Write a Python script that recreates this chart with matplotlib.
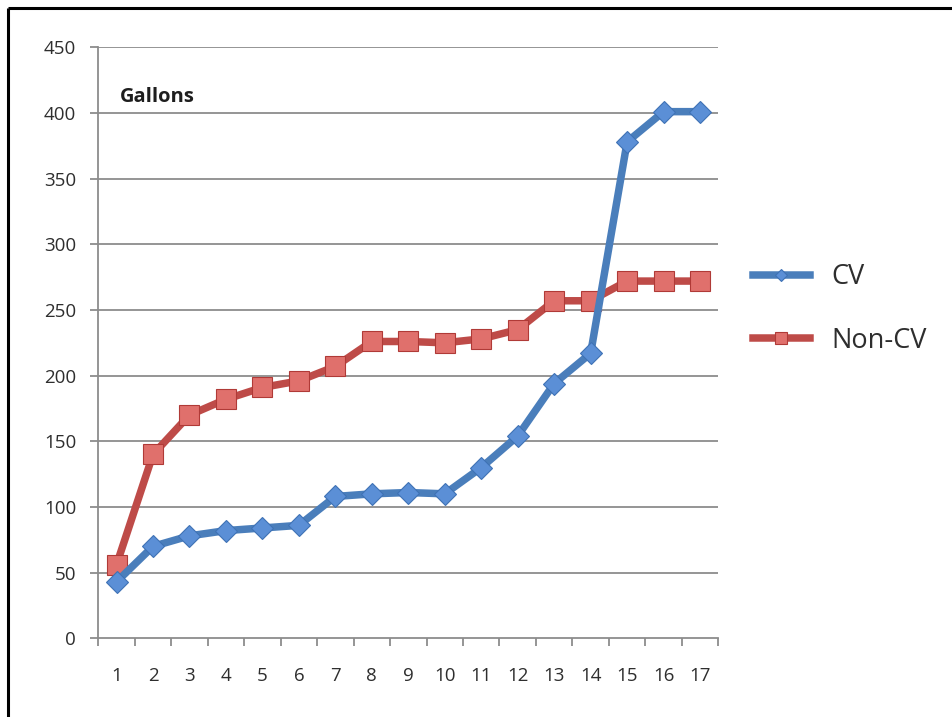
import matplotlib
matplotlib.use("Agg")
import matplotlib.pyplot as plt
from matplotlib.lines import Line2D

plt.rcParams['font.family'] = ['Open Sans', 'DejaVu Sans']

categories = [str(i) for i in range(1, 18)]
cv = [43, 70, 78, 82, 84, 86, 108, 110, 111, 110, 130, 154, 194, 217, 378, 401, 401]
non_cv = [56, 140, 170, 182, 191, 196, 207, 226, 226, 225, 228, 235, 257, 257, 272, 272, 272]
y_ticks = [0, 50, 100, 150, 200, 250, 300, 350, 400, 450]

W, H = 953, 717
fig = plt.figure(figsize=(W / 100, H / 100), dpi=100)
fig.patch.set_facecolor('white')

# outer frame (top and left visible in reference)
fig.add_artist(Line2D([8.5 / W, 1.0], [1 - 7.5 / H, 1 - 7.5 / H], transform=fig.transFigure,
                      color='black', lw=2.2, solid_capstyle='butt'))
fig.add_artist(Line2D([8.5 / W, 8.5 / W], [0.0, 1 - 7.5 / H], transform=fig.transFigure,
                      color='black', lw=2.2, solid_capstyle='butt'))

ax_l, ax_r, ax_t, ax_b = 98.3, 718.3, 47.3, 638.3
ax = fig.add_axes([ax_l / W, 1 - ax_b / H, (ax_r - ax_l) / W, (ax_b - ax_t) / H])

x = list(range(1, len(categories) + 1))

grid_c = '#8c8c8c'
for yv in y_ticks[1:]:
    ax.axhline(yv, color=grid_c, lw=1.3, zorder=1)

blue_line = '#4A7EBB'
blue_face = '#5B8FD6'
blue_edge = '#3F72B5'
red_line = '#BE4B48'
red_face = '#E0706C'
red_edge = '#B03A37'

ax.plot(x, cv, color=blue_line, lw=5.4, marker='D', markersize=11,
        markerfacecolor=blue_face, markeredgecolor=blue_edge, markeredgewidth=0.8,
        zorder=4, label='CV', solid_joinstyle='round')
ax.plot(x, non_cv, color=red_line, lw=5.4, marker='s', markersize=15,
        markerfacecolor=red_face, markeredgecolor=red_edge, markeredgewidth=0.8,
        zorder=3, label='Non-CV', solid_joinstyle='round')

ax.set_xlim(0.5, len(categories) + 0.5)
ax.set_ylim(0, 450)

ax.set_yticks(y_ticks)
ax.set_yticklabels([str(v) for v in y_ticks])
ax.set_xticks(x)
ax.set_xticklabels(categories)
ax.set_xticks([i + 0.5 for i in range(0, len(categories) + 1)], minor=True)

ax.tick_params(axis='x', which='major', length=0, pad=21, labelsize=13.5, colors='#2e2e2e')
ax.tick_params(axis='x', which='minor', length=6, width=1.3, color=grid_c, direction='out')
ax.tick_params(axis='y', which='major', length=6, width=1.3, color=grid_c, pad=10,
               labelsize=13.5, labelcolor='#2e2e2e', direction='out')

for s in ['top', 'right']:
    ax.spines[s].set_visible(False)
for s in ['left', 'bottom']:
    ax.spines[s].set_color(grid_c)
    ax.spines[s].set_linewidth(1.3)

ax.text((120 - ax_l) / (ax_r - ax_l), (ax_b - 97) / (ax_b - ax_t), 'Gallons',
        transform=ax.transAxes, fontsize=14.5, fontweight='bold', color='#1e1e1e',
        ha='left', va='center')

leg = fig.legend(loc='center left', bbox_to_anchor=(753 / W, 1 - 309 / H),
                 frameon=False, fontsize=19.5, handlelength=2.1, handletextpad=0.8,
                 labelspacing=1.3, borderpad=0.0, borderaxespad=0.0,
                 labelcolor='#2e2e2e', markerscale=0.6)

fig.savefig('out.png', dpi=100, facecolor='white')
